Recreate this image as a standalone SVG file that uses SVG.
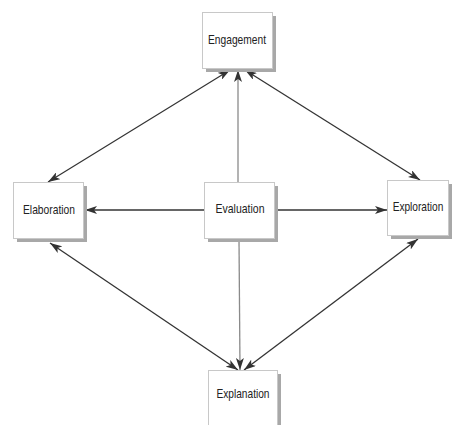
<svg xmlns="http://www.w3.org/2000/svg" width="452" height="425" viewBox="0 0 452 425">
<style>
.box{fill:#fff;stroke:#c8c8c8;stroke-width:1}
.shadow{fill:#a8a8a8}
.lbl{font-family:"Liberation Sans",Arial,sans-serif;font-size:13px;fill:#222;text-anchor:middle}
.dark{stroke:#333;stroke-width:1.3;fill:none}
.light{stroke:#8a8a8a;stroke-width:1.3;fill:none}
</style>
<defs>
<marker id="ah" viewBox="0 0 12 8" refX="12" refY="4" markerWidth="12" markerHeight="8" markerUnits="userSpaceOnUse" orient="auto-start-reverse">
<path d="M0,0 L12,4 L0,8 L3,4 Z" fill="#333"/>
</marker>
</defs>
<rect width="452" height="425" fill="#fff"/>
<g id="connectors">
<line class="dark" x1="48" y1="182" x2="230" y2="70" marker-start="url(#ah)" marker-end="url(#ah)"/>
<line class="dark" x1="245" y1="70" x2="420" y2="180" marker-start="url(#ah)" marker-end="url(#ah)"/>
<line class="light" x1="238" y1="182" x2="238" y2="70" marker-end="url(#ah)"/>
<line class="dark" x1="204" y1="210" x2="85" y2="210" marker-end="url(#ah)"/>
<line class="dark" x1="275" y1="210" x2="387" y2="210" marker-end="url(#ah)"/>
<line class="light" x1="239" y1="239" x2="240" y2="370" marker-end="url(#ah)"/>
<line class="dark" x1="50" y1="243" x2="238" y2="370" marker-start="url(#ah)" marker-end="url(#ah)"/>
<line class="dark" x1="418" y1="239" x2="244" y2="370" marker-start="url(#ah)" marker-end="url(#ah)"/>
</g>
<g id="engagement">
<rect class="shadow" x="206" y="16" width="70" height="56"/>
<rect class="box" x="202.5" y="12.5" width="70" height="56"/>
<text class="lbl" x="237" y="44" textLength="58" lengthAdjust="spacingAndGlyphs">Engagement</text>
</g>
<g id="elaboration">
<rect class="shadow" x="17" y="186" width="70" height="56"/>
<rect class="box" x="13.5" y="182.5" width="70" height="56"/>
<text class="lbl" x="49" y="214" textLength="52" lengthAdjust="spacingAndGlyphs">Elaboration</text>
</g>
<g id="evaluation">
<rect class="shadow" x="208" y="186" width="70" height="56"/>
<rect class="box" x="204.5" y="182.5" width="70" height="56"/>
<text class="lbl" x="240" y="213" textLength="49" lengthAdjust="spacingAndGlyphs">Evaluation</text>
</g>
<g id="exploration">
<rect class="shadow" x="391" y="184" width="61" height="55"/>
<rect class="box" x="387.5" y="180.5" width="61" height="55"/>
<text class="lbl" transform="translate(418,211) scale(0.78,1)" x="0" y="0">Exploration</text>
</g>
<g id="explanation">
<rect class="shadow" x="212" y="374" width="69" height="60"/>
<rect class="box" x="208.5" y="370.5" width="69" height="60"/>
<text class="lbl" x="243" y="398" textLength="53" lengthAdjust="spacingAndGlyphs">Explanation</text>
</g>
</svg>
